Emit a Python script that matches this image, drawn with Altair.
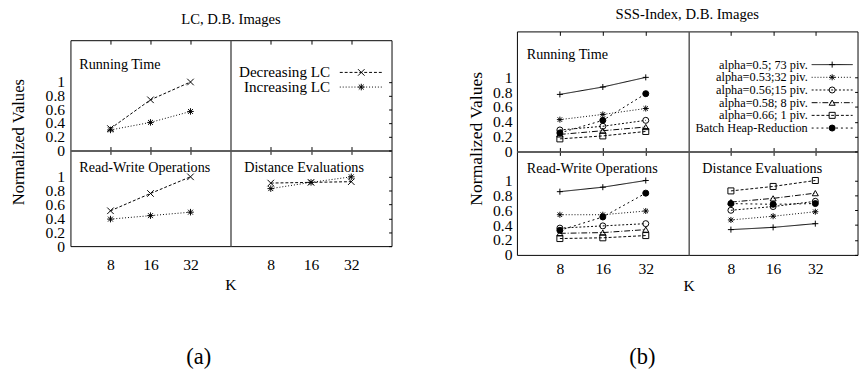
import altair as alt
import pandas as pd

FONT = "Liberation Serif"

K = ["8", "16", "32"]
Y_TICKS = [0, 0.2, 0.4, 0.6, 0.8, 1.0]

# ---- (a) LC, D.B. Images ----
LC_SERIES = ["Decreasing LC", "Increasing LC"]
lc_run_dec = [0.32, 0.74, 1.00]
lc_run_inc = [0.30, 0.41, 0.57]
lc_rw_dec = [0.51, 0.76, 1.00]
lc_rw_inc = [0.39, 0.44, 0.49]
lc_de_dec = [0.91, 0.92, 0.93]
lc_de_inc = [0.83, 0.92, 1.00]

# ---- (b) SSS-Index, D.B. Images ----
SSS_SERIES = ["alpha=0.5; 73 piv.", "alpha=0.53;32 piv.", "alpha=0.56;15 piv.",
              "alpha=0.58; 8 piv.", "alpha=0.66; 1 piv.", "Batch Heap-Reduction"]
sss_run_050 = [0.77, 0.87, 1.00]
sss_run_053 = [0.43, 0.50, 0.58]
sss_run_056 = [0.29, 0.34, 0.42]
sss_run_058 = [0.23, 0.28, 0.33]
sss_run_066 = [0.17, 0.21, 0.27]
sss_run_batch = [0.25, 0.42, 0.78]

sss_rw_050 = [0.85, 0.91, 1.00]
sss_rw_053 = [0.54, 0.54, 0.59]
sss_rw_056 = [0.36, 0.39, 0.42]
sss_rw_058 = [0.29, 0.30, 0.34]
sss_rw_066 = [0.22, 0.23, 0.26]
sss_rw_batch = [0.33, 0.51, 0.83]

sss_de_050 = [0.34, 0.37, 0.42]
sss_de_053 = [0.47, 0.52, 0.58]
sss_de_056 = [0.60, 0.65, 0.72]
sss_de_058 = [0.71, 0.76, 0.83]
sss_de_066 = [0.86, 0.92, 1.00]
sss_de_batch = [0.69, 0.68, 0.69]

PANEL_TITLES = ["Running Time", "Read-Write Operations", "Distance Evaluations"]
FIG_TITLES = ["LC, D.B. Images", "SSS-Index, D.B. Images"]
CAPTIONS = ["(a)", "(b)"]
X_TITLE = "K"
Y_TITLE = "Normalized Values"

# gnuplot-like marker shapes
PLUS = "M-1,0H1M0,-1V1"
CROSS = "M-1,-1L1,1M-1,1L1,-1"
STAR = "M-1,0H1M0,-1V1M-0.75,-0.75L0.75,0.75M-0.75,0.75L0.75,-0.75"

MID = "#555555"


def long_df(series, lists):
    rows = []
    for s, vals in zip(series, lists):
        for k, v in zip(K, vals):
            rows.append({"series": s, "K": k, "value": v})
    return pd.DataFrame(rows)


def fig(cfg, dfs):
    WL, WR, HT, HB = cfg["WL"], cfg["WR"], cfg["HT"], cfg["HB"]
    W, H = WL + WR, HT + HB
    ser = cfg["series"]
    dash_enc = alt.StrokeDash("series:N", scale=alt.Scale(domain=ser, range=cfg["dashes"]), legend=None)
    shape_enc = alt.Shape("series:N", scale=alt.Scale(domain=ser, range=cfg["shapes"]), legend=None)
    fill_enc = alt.Fill("series:N", scale=alt.Scale(domain=ser, range=cfg["fills"]), legend=None)

    layers = []
    panels = [(dfs[0], 0, 0), (None, 1, 0), (dfs[1], 0, 1), (dfs[2], 1, 1)]
    for df, col, row in panels:
        if df is None:
            df = pd.DataFrame({"series": pd.Series([], dtype=str), "K": pd.Series([], dtype=str),
                               "value": pd.Series([], dtype=float)})
        xr = [0, WL] if col == 0 else [WL, W]
        yr = [HT, 0] if row == 0 else [H, HT]
        ydom = cfg["ydom_t"] if row == 0 else cfg["ydom_b"]

        if row == 0:
            x_line_axis = alt.Axis(orient="bottom", offset=-HB, labels=False, ticks=True, tickSize=4,
                                   domain=True, domainColor=MID, domainWidth=1.5, grid=False, title=None)
            x_pt_axis = alt.Axis(orient="top", offset=-4, labels=False, ticks=True, tickSize=4,
                                 domain=False, grid=False, title=None)
        else:
            kw = dict(orient="bottom", labels=True, ticks=False, labelPadding=cfg["xlab_pad"],
                      labelFontSize=16, labelAngle=0, domain=False, grid=False,
                      titleAlign="center", titleBaseline="middle")
            if col == 0:
                kw.update(title=X_TITLE, titleX=WL, titleY=cfg["k_y"], titleFontSize=16)
            else:
                kw.update(title=cfg["caption"], titleX=cfg["cap_x"], titleY=cfg["cap_y"], titleFontSize=23)
            x_line_axis = alt.Axis(**kw)
            x_pt_axis = alt.Axis(orient="top", offset=-HT, labels=False, ticks=True, tickSize=4,
                                 domain=True, domainColor=MID, domainWidth=1.5, grid=False, title=None)
        if col == 0:
            kw = dict(orient="left", values=Y_TICKS, format="~g", labels=True, ticks=False,
                      labelOverlap=False, labelPadding=cfg["ylab_pad"], labelFontSize=16,
                      domain=False, grid=False)
            if row == 0:
                kw.update(title=Y_TITLE, titleX=cfg["yt_x"], titleY=cfg["yt_y"], titleFontSize=cfg["yt_size"],
                          titleAlign="center", titleBaseline="middle", titleAngle=270)
            else:
                kw.update(title=None)
            y_line_axis = alt.Axis(**kw)
            y_pt_axis = None
        else:
            y_line_axis = alt.Axis(orient="right", values=Y_TICKS, labels=False, ticks=True, tickSize=3,
                                   offset=-3, domain=False, grid=False, title=None)
            y_pt_axis = alt.Axis(orient="left", offset=-WL, labels=False, ticks=False, domain=True,
                                 domainColor=MID, domainWidth=1.5, grid=False, title=None)

        xs = alt.Scale(type="point", domain=K, padding=1, range=xr)
        ys = alt.Scale(domain=ydom, range=yr, nice=False, zero=False)
        lines = alt.Chart(df).mark_line(color="black", strokeWidth=1).encode(
            x=alt.X("K:O", scale=xs, axis=x_line_axis),
            y=alt.Y("value:Q", scale=ys, axis=y_line_axis),
            strokeDash=dash_enc, detail="series:N")
        pts = alt.Chart(df).mark_point(stroke="black", strokeWidth=1, opacity=1, size=cfg["size"]).encode(
            x=alt.X("K:O", scale=xs, axis=x_pt_axis),
            y=alt.Y("value:Q", scale=ys, axis=y_pt_axis),
            shape=shape_enc, fill=fill_enc)
        layers += [lines, pts]

    # panel labels
    for (lx, ly), txt in zip(cfg["label_pos"], PANEL_TITLES):
        layers.append(alt.Chart(pd.DataFrame({"t": [txt]})).mark_text(
            align="left", baseline="alphabetic", font=FONT, fontSize=14.5, color="black").encode(
            x=alt.value(lx), y=alt.value(ly), text="t:N"))

    # key, gnuplot style: label, then line sample with marker
    ldf = pd.DataFrame({"series": ser})
    ly = alt.Y("series:N", scale=alt.Scale(type="point", domain=ser, range=cfg["leg_range"], padding=0),
               axis=None)
    layers.append(alt.Chart(ldf).mark_text(align="right", baseline="middle", font=FONT,
                                           fontSize=cfg["leg_font"], color="black").encode(
        x=alt.value(WL + cfg["leg_text_x"]), y=ly, text="series:N"))
    layers.append(alt.Chart(ldf).mark_rule(color="black", strokeWidth=1).encode(
        x=alt.value(WL + cfg["leg_x0"]), x2=alt.value(WL + cfg["leg_x1"]), y=ly, strokeDash=dash_enc))
    layers.append(alt.Chart(ldf).mark_point(stroke="black", strokeWidth=1, opacity=1, size=cfg["size"]).encode(
        x=alt.value(WL + cfg["leg_xm"]), y=ly, shape=shape_enc, fill=fill_enc))

    return alt.layer(*layers).resolve_scale(x="independent", y="independent").properties(
        width=W, height=H,
        title=alt.TitleParams(text=cfg["title"], anchor="middle", frame="group", offset=cfg["title_off"],
                              baseline="alphabetic", fontSize=15, font=FONT, fontWeight="normal",
                              color="black"))


CFG_A = dict(WL=164, WR=165, HT=113, HB=98, ydom_t=[0, 1.61], ydom_b=[0, 1.38],
             series=LC_SERIES, shapes=[CROSS, STAR], dashes=[[3, 2], [1, 2]],
             fills=["transparent", "transparent"], size=45,
             leg_font=15.5, leg_range=[33, 48], leg_text_x=102, leg_x0=112, leg_x1=155, leg_xm=134,
             label_pos=[(9, 29), (9, 135), (178, 135)],
             title=FIG_TITLES[0], title_off=1, caption=CAPTIONS[0], cap_x=131, cap_y=113.5,
             k_y=39, yt_x=-53, yt_y=104, yt_size=17, ylab_pad=6, xlab_pad=10.5)
CFG_B = dict(WL=176, WR=173, HT=123, HB=106, ydom_t=[0, 1.62], ydom_b=[0, 1.39],
             series=SSS_SERIES, shapes=[PLUS, STAR, "circle", "triangle-up", "square", "circle"],
             dashes=[[1, 0], [1, 2], [2, 2], [6, 2, 1, 2], [3, 2], [2, 3]],
             fills=["transparent"] * 5 + ["black"], size=38,
             leg_font=12.6, leg_range=[34, 99], leg_text_x=122, leg_x0=126, leg_x1=168, leg_xm=147,
             label_pos=[(10, 28), (10, 145), (190, 145)],
             title=FIG_TITLES[1], title_off=-3, caption=CAPTIONS[1], cap_x=128, cap_y=104.5,
             k_y=31, yt_x=-41, yt_y=109.5, yt_size=18, ylab_pad=5, xlab_pad=6.5)

dfs_a = [long_df(LC_SERIES, [lc_run_dec, lc_run_inc]),
         long_df(LC_SERIES, [lc_rw_dec, lc_rw_inc]),
         long_df(LC_SERIES, [lc_de_dec, lc_de_inc])]
dfs_b = [long_df(SSS_SERIES, [sss_run_050, sss_run_053, sss_run_056, sss_run_058, sss_run_066, sss_run_batch]),
         long_df(SSS_SERIES, [sss_rw_050, sss_rw_053, sss_rw_056, sss_rw_058, sss_rw_066, sss_rw_batch]),
         long_df(SSS_SERIES, [sss_de_050, sss_de_053, sss_de_056, sss_de_058, sss_de_066, sss_de_batch])]

fig_a = fig(CFG_A, dfs_a)
fig_b = fig(CFG_B, dfs_b)

chart = alt.hconcat(fig_a, fig_b, spacing=128.5, bounds="flush", center=True).resolve_scale(
    shape="independent", strokeDash="independent", fill="independent"
).properties(
    padding={"left": 1, "top": -5.5, "right": 0, "bottom": 0}
).configure_view(stroke="black", strokeWidth=1).configure_axis(
    labelFont=FONT, titleFont=FONT, labelColor="black", titleColor="black", tickColor="black",
    titleFontWeight="normal", minExtent=0
).configure_title(font=FONT, fontWeight="normal", color="black")

chart.save("out.html", embed_options={"renderer": "svg", "actions": False})
